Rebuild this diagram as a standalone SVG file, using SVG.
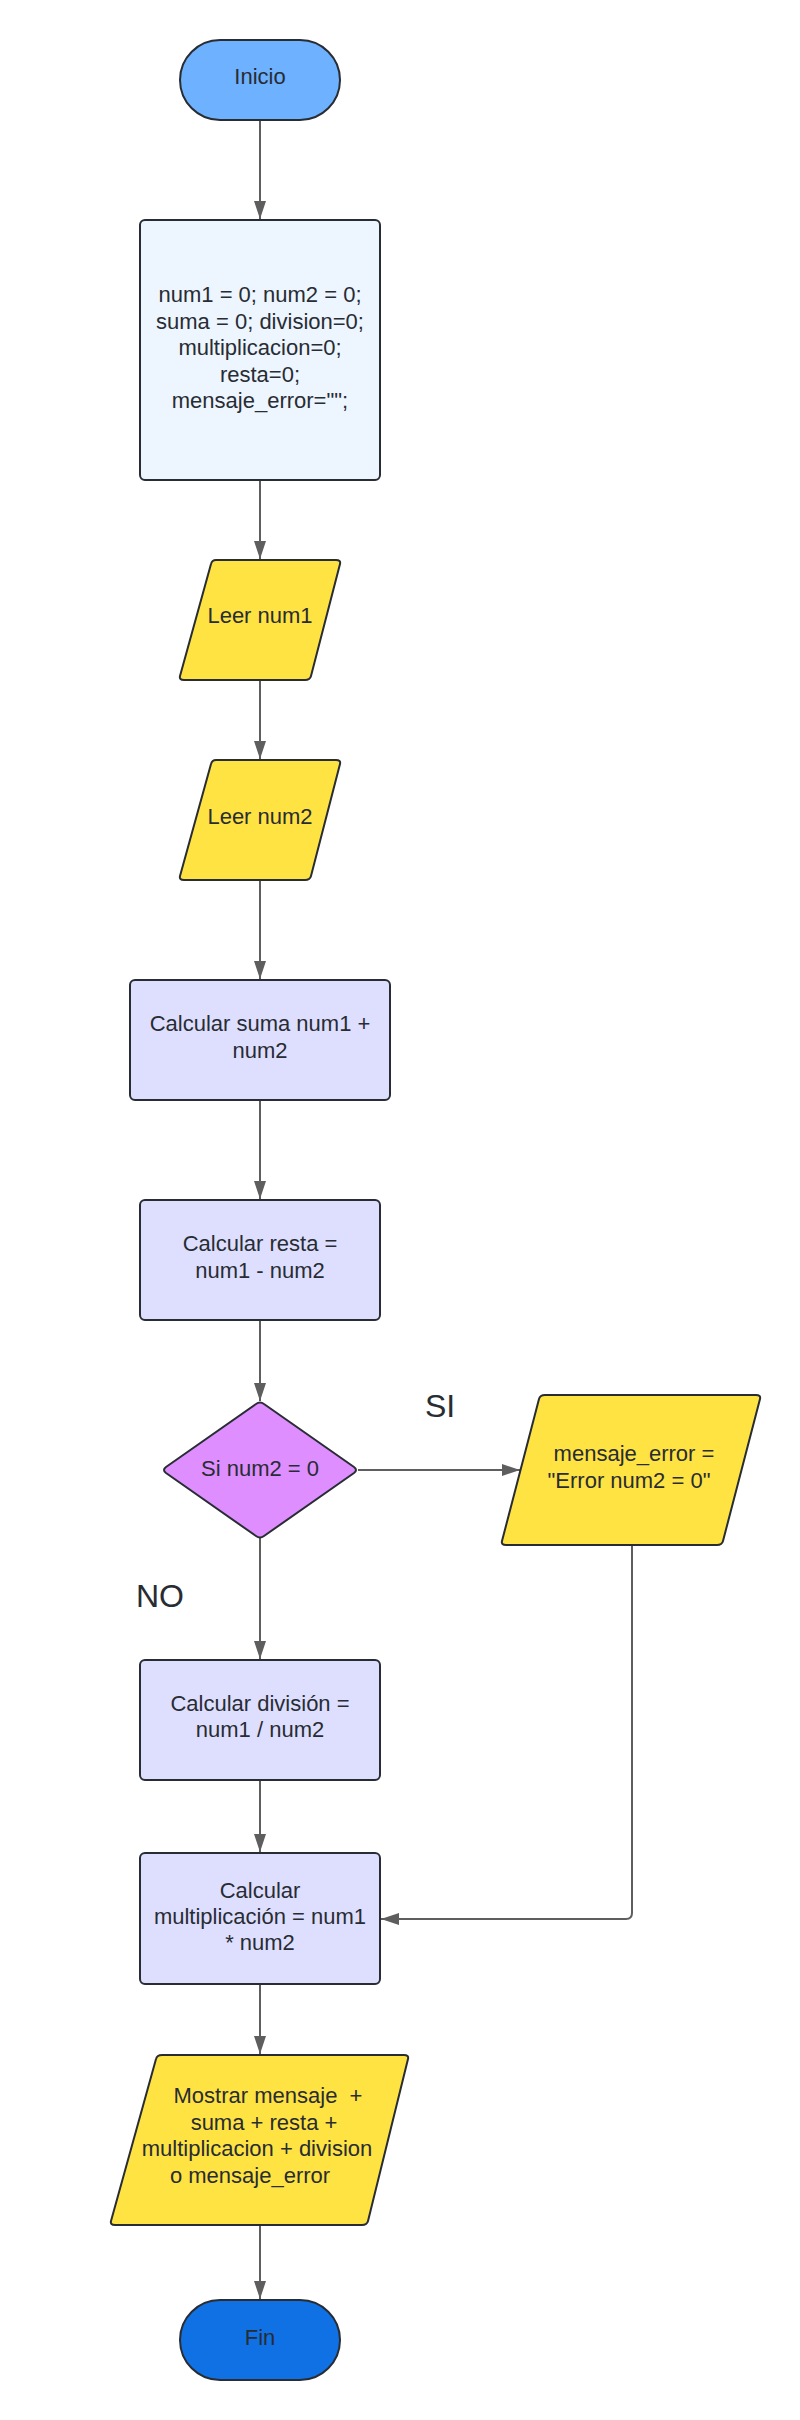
<svg xmlns="http://www.w3.org/2000/svg" width="800" height="2420" viewBox="0 0 800 2420">
<style>
.t{font-family:"Liberation Sans",Arial,sans-serif;font-size:22px;fill:#282C33;text-anchor:middle}
.big{font-size:32px}
.s{stroke:#282C33;stroke-width:2;stroke-linejoin:round}
.c{fill:none;stroke:#5E5E5E;stroke-width:2;marker-end:url(#ah)}
</style>
<defs>
<marker id="ah" markerUnits="userSpaceOnUse" markerWidth="18" markerHeight="12" refX="18" refY="6" orient="auto">
<path d="M0,0 L18,6 L0,12 z" fill="#5E5E5E"/>
</marker>
</defs>
<rect width="800" height="2420" fill="#FFFFFF"/>
<g id="connectors">
<path class="c" d="M260 120 V219"/>
<path class="c" d="M260 480 V559"/>
<path class="c" d="M260 680 V759"/>
<path class="c" d="M260 880 V979"/>
<path class="c" d="M260 1100 V1199"/>
<path class="c" d="M260 1320 V1401"/>
<path class="c" d="M358 1470 H520"/>
<path class="c" d="M260 1538 V1659"/>
<path class="c" d="M260 1780 V1852"/>
<path class="c" d="M632 1545 V1913 Q632 1919 626 1919 H381"/>
<path class="c" d="M260 1984 V2054"/>
<path class="c" d="M260 2225 V2299"/>
</g>
<g id="inicio">
<rect class="s" x="180" y="40" width="160" height="80" rx="40" fill="#6DB1FF"/>
<text class="t" x="260" y="84">Inicio</text>
</g>
<g id="init">
<rect class="s" x="140" y="220" width="240" height="260" rx="5" fill="#EDF5FF"/>
<text class="t" x="260" y="302">num1 = 0; num2 = 0;</text>
<text class="t" x="260" y="328.5">suma = 0; division=0;</text>
<text class="t" x="260" y="355">multiplicacion=0;</text>
<text class="t" x="260" y="381.5">resta=0;</text>
<text class="t" x="260" y="408">mensaje_error="";</text>
</g>
<g id="leer1">
<path class="s" d="M216 560 H336 Q341 560 340 564 L311 676 Q310 680 305 680 H184 Q179 680 180 676 L211 564 Q212 560 216 560 Z" fill="#FFE342"/>
<text class="t" x="260" y="623">Leer num1</text>
</g>
<g id="leer2">
<path class="s" d="M216 760 H336 Q341 760 340 764 L311 876 Q310 880 305 880 H184 Q179 880 180 876 L211 764 Q212 760 216 760 Z" fill="#FFE342"/>
<text class="t" x="260" y="824">Leer num2</text>
</g>
<g id="suma">
<rect class="s" x="130" y="980" width="260" height="120" rx="5" fill="#DEDFFF"/>
<text class="t" x="260" y="1031">Calcular suma num1 +</text>
<text class="t" x="260" y="1057.5">num2</text>
</g>
<g id="resta">
<rect class="s" x="140" y="1200" width="240" height="120" rx="5" fill="#DEDFFF"/>
<text class="t" x="260" y="1251">Calcular resta =</text>
<text class="t" x="260" y="1277.5">num1 - num2</text>
</g>
<g id="decision">
<path class="s" d="M256 1404 Q260 1401 264 1404 L354 1467 Q358 1470 354 1473 L264 1536 Q260 1539 256 1536 L166 1473 Q162 1470 166 1467 Z" fill="#DE8EFF"/>
<text class="t" x="260" y="1476">Si num2 = 0</text>
</g>
<g id="label-si">
<text class="t big" x="440" y="1417">SI</text>
</g>
<g id="label-no">
<text class="t big" x="160" y="1607">NO</text>
</g>
<g id="error">
<path class="s" d="M545 1395 H756 Q761 1395 760 1399 L723 1541 Q722 1545 717 1545 H506 Q501 1545 502 1541 L539 1399 Q540 1395 545 1395 Z" fill="#FFE342"/>
<text class="t" x="634" y="1461">mensaje_error =</text>
<text class="t" x="629" y="1487.5">"Error num2 = 0"</text>
</g>
<g id="division">
<rect class="s" x="140" y="1660" width="240" height="120" rx="5" fill="#DEDFFF"/>
<text class="t" x="260" y="1711">Calcular división =</text>
<text class="t" x="260" y="1737">num1 / num2</text>
</g>
<g id="multiplicacion">
<rect class="s" x="140" y="1853" width="240" height="131" rx="5" fill="#DEDFFF"/>
<text class="t" x="260" y="1897.5">Calcular</text>
<text class="t" x="260" y="1923.5">multiplicación = num1</text>
<text class="t" x="260" y="1949.5">* num2</text>
</g>
<g id="mostrar">
<path class="s" d="M162 2055 H404 Q409 2055 408 2059 L368 2221 Q367 2225 362 2225 H115 Q110 2225 111 2221 L156 2059 Q157 2055 162 2055 Z" fill="#FFE342"/>
<text class="t" x="268" y="2103" xml:space="preserve">Mostrar mensaje  +</text>
<text class="t" x="264" y="2129.5">suma + resta +</text>
<text class="t" x="257" y="2156">multiplicacion + division</text>
<text class="t" x="250" y="2182.5">o mensaje_error</text>
</g>
<g id="fin">
<rect class="s" x="180" y="2300" width="160" height="80" rx="40" fill="#1071E5"/>
<text class="t" x="260" y="2345">Fin</text>
</g>
</svg>
